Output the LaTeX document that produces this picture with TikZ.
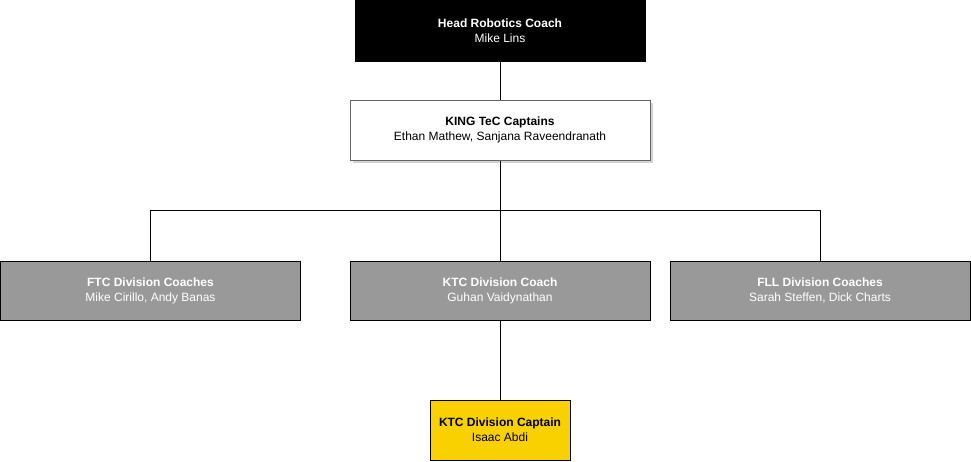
\documentclass[tikz,border=0pt]{standalone}
\usepackage{fontspec}
\setmainfont{Liberation Sans}
\usetikzlibrary{shadows}
\definecolor{divgray}{HTML}{999999}
\definecolor{capyellow}{HTML}{F9D000}
\definecolor{capborder}{HTML}{666666}
\tikzset{
  orgbox/.style={draw=black, line width=1pt, align=center, inner sep=0pt,
    font=\fontsize{12}{15}\selectfont},
  headbox/.style={orgbox, fill=black, text=white, minimum width=290pt, minimum height=61pt},
  captbox/.style={orgbox, draw=capborder, fill=white, minimum width=300pt, minimum height=60pt,
    drop shadow={shadow xshift=3pt, shadow yshift=-3pt, opacity=0.35}},
  divbox/.style={orgbox, fill=divgray, text=white, minimum width=300pt, minimum height=59pt},
  kidbox/.style={orgbox, fill=capyellow, minimum width=140pt, minimum height=60pt},
  link/.style={draw=black, line width=1pt}
}
\begin{document}
\begin{tikzpicture}[x=1pt,y=-1pt]
\useasboundingbox (0,0) rectangle (971,461);

\node[headbox] (head) at (500,30.5) {\textbf{Head Robotics Coach}\\Mike Lins};
\node[captbox] (kingcapt) at (500,130) {\textbf{KING TeC Captains}\\Ethan Mathew, Sanjana Raveendranath};

\node[divbox] (ftc) at (150.5,290.5) {\textbf{FTC Division Coaches}\\Mike Cirillo, Andy Banas};
\node[divbox] (ktc) at (500,290.5) {\textbf{KTC Division Coach}\\Guhan Vaidynathan};
\node[divbox] (fll) at (820,290.5) {\textbf{FLL Division Coaches}\\Sarah Steffen, Dick Charts};

\node[kidbox] (ktccapt) at (500,430) {\textbf{KTC Division Captain}\\Isaac Abdi};

\coordinate (split) at (500,210);

\draw[link] (head.south) -- (kingcapt.north);
\draw[link] (kingcapt.south) -- (split);
\draw[link] (split) -| (ftc.north);
\draw[link] (split) -| (fll.north);
\draw[link] (split) -- (ktc.north);
\draw[link] (ktc.south) -- (ktccapt.north);
\end{tikzpicture}
\end{document}
